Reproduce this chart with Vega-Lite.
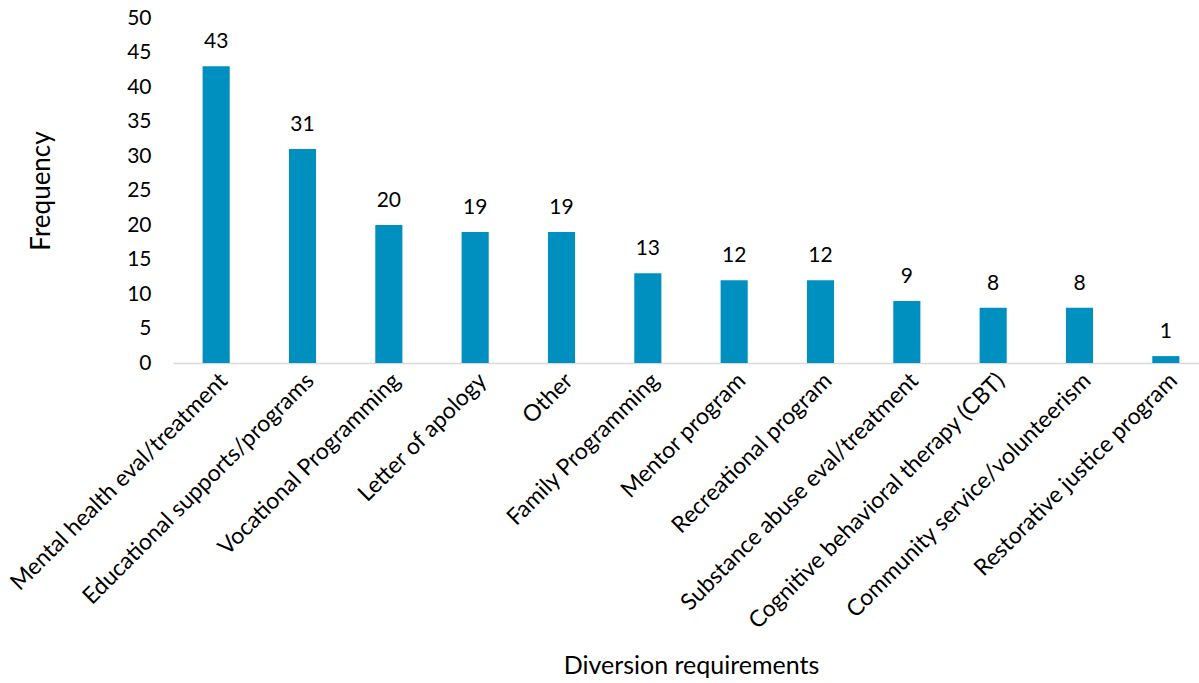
{
  "$schema": "https://vega.github.io/schema/vega-lite/v6.json",
  "autosize": "none",
  "padding": {"left": 173, "top": 18, "right": 0, "bottom": 320},
  "width": 1036,
  "height": 345,
  "background": "white",
  "config": {"view": {"stroke": null}, "font": "Lato"},
  "data": {"values": [
    {"req": "Mental health eval/treatment", "n": 43},
    {"req": "Educational supports/programs", "n": 31},
    {"req": "Vocational Programming", "n": 20},
    {"req": "Letter of apology", "n": 19},
    {"req": "Other", "n": 19},
    {"req": "Family Programming", "n": 13},
    {"req": "Mentor program", "n": 12},
    {"req": "Recreational program", "n": 12},
    {"req": "Substance abuse eval/treatment", "n": 9},
    {"req": "Cognitive behavioral therapy (CBT)", "n": 8},
    {"req": "Community service/volunteerism", "n": 8},
    {"req": "Restorative justice program", "n": 1}
  ]},
  "encoding": {
    "x": {
      "field": "req", "type": "nominal", "sort": null,
      "scale": {"paddingInner": 0.686, "paddingOuter": 0.343},
      "axis": {
        "title": "Diversion requirements", "titleFontSize": 25, "titleFontWeight": "normal", "titleColor": "#000",
        "titleY": 302, "titleBaseline": "middle",
        "labelAngle": -45, "labelFontSize": 23, "labelColor": "#000", "labelLimit": 400,
        "labelOverlap": false, "labelBound": false,
        "ticks": false, "domainColor": "#d9d9d9", "domainWidth": 1.5, "labelPadding": 6
      }
    },
    "y": {
      "field": "n", "type": "quantitative",
      "scale": {"domain": [0, 50]},
      "axis": {
        "title": "Frequency", "titleFontSize": 26, "titleFontWeight": "normal", "titleColor": "#000",
        "titlePadding": 72,
        "values": [0,5,10,15,20,25,30,35,40,45,50],
        "labelOverlap": false, "labelBound": false, "labelFlush": false,
        "labelFontSize": 21, "labelColor": "#000", "labelPadding": 22,
        "ticks": false, "domain": false, "grid": false
      }
    }
  },
  "layer": [
    {"mark": {"type": "bar", "color": "#0090C0"}},
    {"mark": {"type": "text", "dy": -14, "fontSize": 21, "color": "#000", "baseline": "bottom"},
     "encoding": {"text": {"field": "n", "type": "quantitative"}}}
  ]
}
